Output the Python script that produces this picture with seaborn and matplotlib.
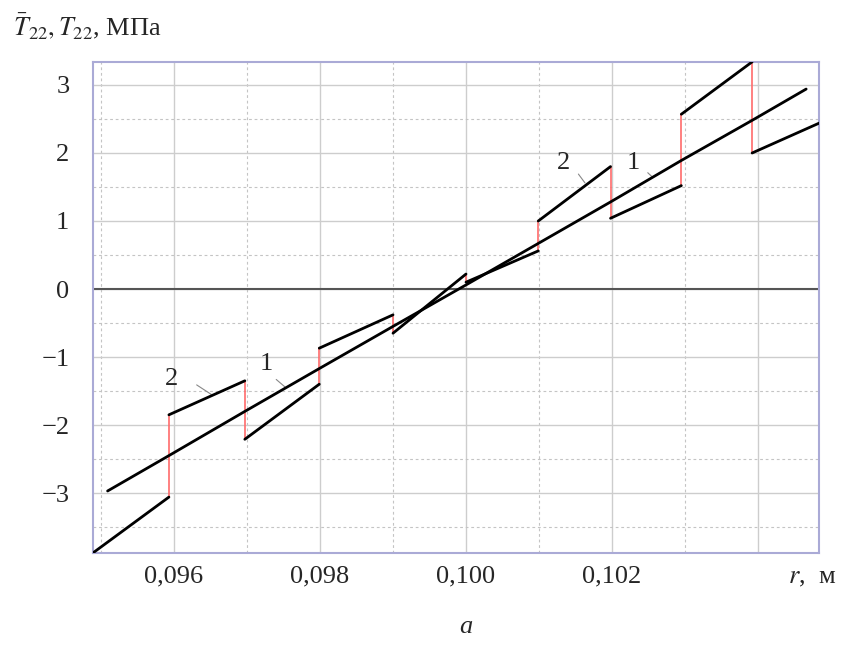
import numpy as np
import pandas as pd
import seaborn as sns
import matplotlib.pyplot as plt
from matplotlib.ticker import MultipleLocator

# line 1 - smooth solution (straight)
r_line1 = [0.09509, 0.09593, 0.09697, 0.09799, 0.0990, 0.1000,
           0.10099, 0.10198, 0.10295, 0.10392, 0.10466]
t_line1 = [-2.97, -2.45, -1.80, -1.17, -0.55, 0.06,
           0.67, 1.28, 1.89, 2.48, 2.94]

# line 2 - piecewise (layered) solution, one segment per layer
seg_r0 = [0.09489, 0.09593, 0.09697, 0.09799, 0.0990, 0.1000, 0.10099, 0.10198, 0.10295, 0.10392]
seg_r1 = [0.09593, 0.09697, 0.09799, 0.0990, 0.1000, 0.10099, 0.10198, 0.10295, 0.10392, 0.10484]
seg_t0 = [-3.88, -1.85, -2.21, -0.87, -0.65, 0.10, 1.00, 1.04, 2.57, 2.00]
seg_t1 = [-3.06, -1.35, -1.40, -0.38, 0.22, 0.56, 1.80, 1.52, 3.34, 2.44]

x_ticks = [0.096, 0.098, 0.100, 0.102, 0.104]
x_tick_labels = ['0,096', '0,098', '0,100', '0,102', '']
y_ticks = [-3, -2, -1, 0, 1, 2, 3]
y_tick_labels = ['\u22123', '\u22122', '\u22121', '0', '1', '2', '3']

df1 = pd.DataFrame({'r': r_line1, 'T': t_line1})

rows = []
for i in range(len(seg_r0)):
    rows.append((i, seg_r0[i], seg_t0[i]))
    rows.append((i, seg_r1[i], seg_t1[i]))
df2 = pd.DataFrame(rows, columns=['seg', 'r', 'T'])

# jumps between neighbouring layers
jumps = []
for i in range(len(seg_r0) - 1):
    jumps.append((i, seg_r1[i], seg_t1[i]))
    jumps.append((i, seg_r1[i], seg_t0[i + 1]))
df3 = pd.DataFrame(jumps, columns=['seg', 'r', 'T'])

sns.set_style('white')
plt.rcParams['font.family'] = ['Liberation Serif', 'DejaVu Serif']
plt.rcParams['mathtext.fontset'] = 'stix'

fig = plt.figure(figsize=(8.63, 6.49), dpi=100)
ax = fig.add_axes([93 / 863, 1 - 553 / 649, 726 / 863, 491 / 649])

sns.lineplot(data=df3, x='r', y='T', units='seg', estimator=None, ax=ax,
             color='#ff6b6b', lw=1.2, zorder=3)
sns.lineplot(data=df2, x='r', y='T', units='seg', estimator=None, ax=ax,
             color='black', lw=2.0, zorder=4, solid_capstyle='round')
sns.lineplot(data=df1, x='r', y='T', estimator=None, ax=ax, sort=False,
             color='black', lw=2.0, zorder=4, solid_capstyle='round')

ax.set_xlim(0.09489, 0.104836)
ax.set_ylim(-3.882, 3.338)
ax.set_xticks(x_ticks)
ax.set_xticklabels(x_tick_labels)
ax.set_yticks(y_ticks)
ax.set_yticklabels(y_tick_labels)
ax.xaxis.set_minor_locator(MultipleLocator(0.001))
ax.yaxis.set_minor_locator(MultipleLocator(0.5))
ax.grid(which='major', color='#cdcdcd', lw=1.0, ls='-')
ax.grid(which='minor', color='#c4c4c4', lw=0.8, ls=(0, (2.5, 2.5)))
ax.set_axisbelow(True)
ax.axhline(0, color='#555555', lw=1.5, zorder=2)
ax.tick_params(which='both', length=0)
ax.tick_params(axis='y', labelsize=19, pad=17)
ax.tick_params(axis='x', labelsize=19, pad=9)
ax.set_xlabel('')
ax.set_ylabel('')
for s in ax.spines.values():
    s.set_color('#aaaad6')
    s.set_linewidth(1.5)

# curve labels with leader lines
labels = [('2', (0.09597, -1.32), (0.09631, -1.41), (0.09651, -1.55)),
          ('1', (0.09726, -1.10), (0.09740, -1.33), (0.09752, -1.44)),
          ('2', (0.10133, 1.85), (0.10154, 1.69), (0.10163, 1.56)),
          ('1', (0.10229, 1.85), (0.10249, 1.71), (0.10256, 1.64))]
for txt, pos, p0, p1 in labels:
    ax.text(pos[0], pos[1], txt, fontsize=19, ha='center', va='center')
    ax.plot([p0[0], p1[0]], [p0[1], p1[1]], color='#888888', lw=0.8, zorder=3)

fig.text(13 / 863, 1 - 35 / 649, r'$\bar{T}_{22}, T_{22}$, МПа', fontsize=19,
         ha='left', va='baseline')
fig.text(812 / 863, 1 - 578 / 649, r'$r$,  м', fontsize=19, ha='center', va='center')
fig.text(466 / 863, 1 - 627 / 649, 'a', fontsize=19, style='italic',
         ha='center', va='center')

fig.savefig('out.png', dpi=100)
